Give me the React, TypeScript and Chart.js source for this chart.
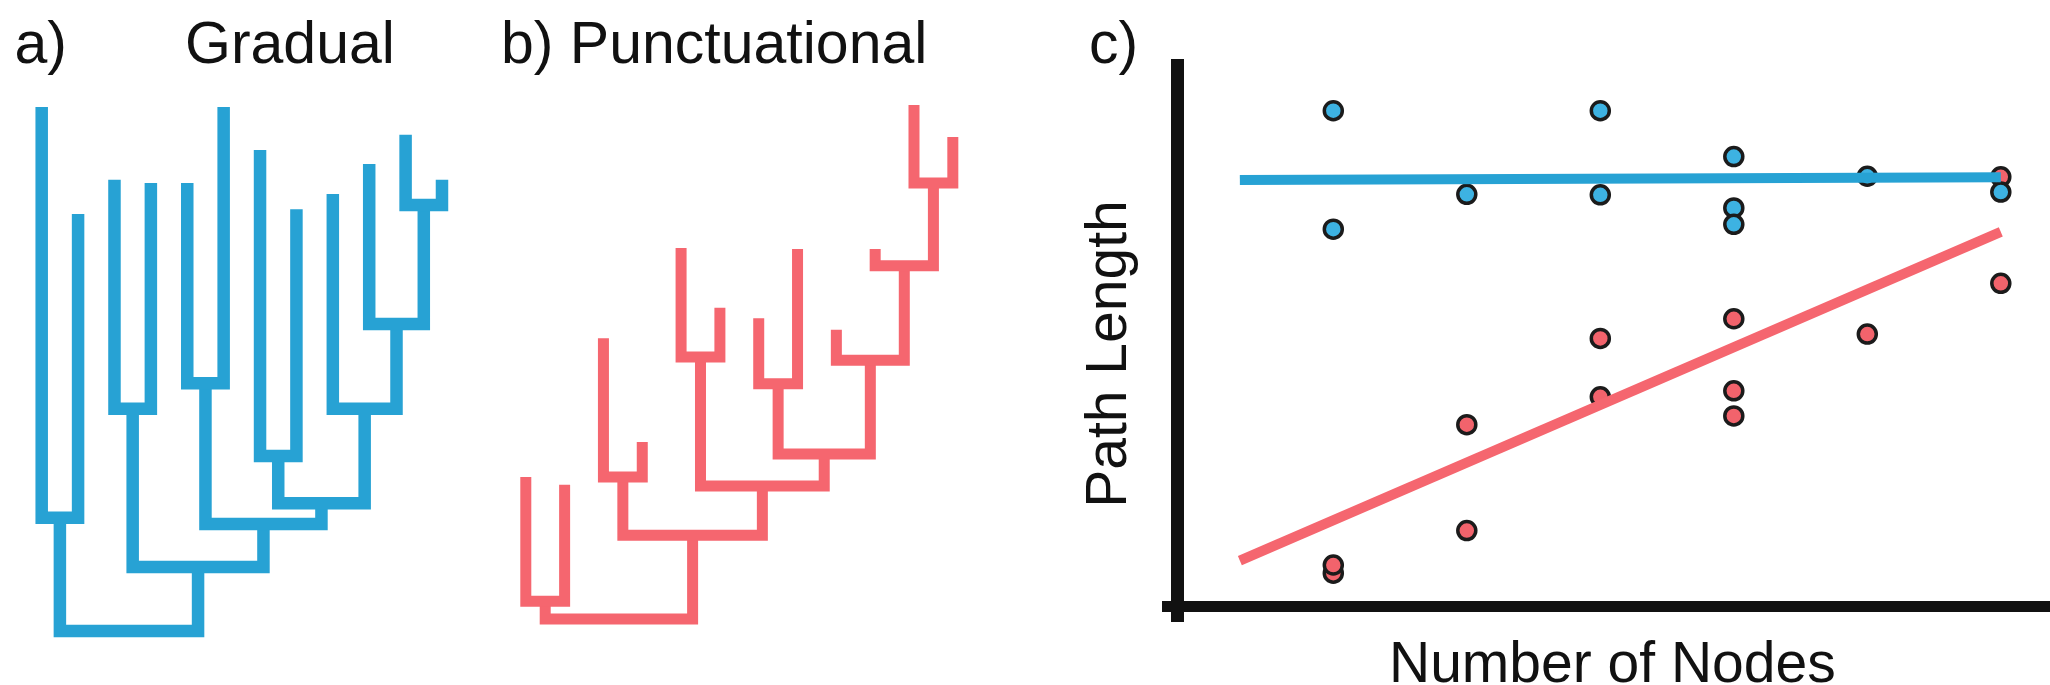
import React, { useEffect, useRef } from "react";
import { Chart, registerables } from "chart.js";

Chart.register(...registerables);

// ---- Tree topology (hclust-style merge table: negative = leaf, positive = earlier merge) ----
const mergeLeft = [-1, -3, -5, -7, -11, -10, -9, 4, 3, 2, 1];
const mergeRight = [-2, -4, -6, -8, -12, 5, 6, 7, 8, 9, 10];

// ---- a) Gradual tree: tip heights and merge heights (root = 0) ----
const gradualTipHeights = [100, 79.6, 86.1, 85.5, 85.5, 100, 91.8, 80.5, 83.4, 89.1, 94.7, 86.1];
const gradualNodeHeights = [21.6, 42.4, 47.3, 33.4, 81.3, 58.6, 42.4, 24.4, 20.4, 12.2, 0];

// ---- b) Punctuational tree ----
const punctTipHeights = [27.1, 25.6, 53.6, 33.8, 70.8, 59.4, 57.4, 70.6, 55.2, 70.6, 98.1, 92.0];
const punctNodeHeights = [3.4, 27.1, 50.0, 44.9, 83.2, 67.4, 49.4, 31.5, 25.4, 16.0, 0];

// ---- c) Path length vs number of nodes ----
const nodeCountsBlue = [1, 1, 2, 3, 3, 4, 4, 4, 5, 6];
const pathLengthBlue = [9.08, 6.91, 7.55, 9.08, 7.54, 8.24, 7.3, 7.0, 7.88, 7.59];
const nodeCountsRed = [1, 1, 2, 2, 3, 3, 4, 4, 4, 5, 6, 6];
const pathLengthRed = [0.61, 0.76, 3.33, 1.39, 4.91, 3.84, 5.27, 3.95, 3.49, 4.99, 7.87, 5.92];
const fitNodes = [0.3, 6.0];
const fitBlue = [7.81, 7.86];
const fitRed = [0.84, 6.86];

const BLUE = "#27a2d4";
const RED = "#f5666f";
const BLUE_FILL = "#3db2e2";
const RED_FILL = "#f2636c";
const INK = "#111111";

function buildTree(tips: number[], nodes: number[], color: string, lw: number) {
  const nodeX: number[] = [];
  const at = (id: number) =>
    id < 0 ? { x: -id, y: tips[-id - 1] } : { x: nodeX[id - 1], y: nodes[id - 1] };
  return mergeLeft.map((l, i) => {
    const a = at(l);
    const b = at(mergeRight[i]);
    nodeX.push((a.x + b.x) / 2);
    const h = nodes[i];
    return {
      data: [
        { x: a.x, y: a.y },
        { x: a.x, y: h },
        { x: b.x, y: h },
        { x: b.x, y: b.y },
      ],
      showLine: true,
      borderColor: color,
      borderWidth: lw,
      pointRadius: 0,
      borderJoinStyle: "miter",
      borderCapStyle: "butt",
      tension: 0,
      clip: false,
    };
  });
}

function TreeChart(props: {
  tips: number[];
  nodes: number[];
  color: string;
  lw: number;
  left: number;
  width: number;
  xMin: number;
  xMax: number;
  yMin: number;
  yMax: number;
}) {
  const ref = useRef<HTMLCanvasElement | null>(null);
  useEffect(() => {
    if (!ref.current) return;
    const chart = new Chart(ref.current, {
      type: "scatter",
      data: { datasets: buildTree(props.tips, props.nodes, props.color, props.lw) as any },
      options: {
        responsive: false,
        animation: false,
        events: [],
        layout: { padding: 0, autoPadding: false },
        plugins: { legend: { display: false }, tooltip: { enabled: false } },
        scales: {
          x: { type: "linear", display: false, min: props.xMin, max: props.xMax },
          y: { type: "linear", display: false, min: props.yMin, max: props.yMax },
        },
      },
    });
    return () => chart.destroy();
  }, []);
  return (
    <canvas
      ref={ref}
      width={props.width}
      height={685}
      style={{ position: "absolute", left: props.left, top: 0 }}
    />
  );
}

function ScatterChart() {
  const ref = useRef<HTMLCanvasElement | null>(null);
  useEffect(() => {
    if (!ref.current) return;
    const chart = new Chart(ref.current, {
      type: "scatter",
      data: {
        datasets: [
          {
            label: "Gradual fit",
            data: fitNodes.map((x, i) => ({ x, y: fitBlue[i] })),
            showLine: true,
            borderColor: BLUE,
            borderWidth: 10,
            borderCapStyle: "butt",
            pointRadius: 0,
            order: 0,
            clip: false,
          },
          {
            label: "Punctuational fit",
            data: fitNodes.map((x, i) => ({ x, y: fitRed[i] })),
            showLine: true,
            borderColor: RED,
            borderWidth: 10,
            borderCapStyle: "butt",
            pointRadius: 0,
            order: 0,
            clip: false,
          },
          {
            label: "Gradual",
            data: nodeCountsBlue.map((x, i) => ({ x, y: pathLengthBlue[i] })),
            showLine: false,
            pointRadius: 9,
            pointBackgroundColor: BLUE_FILL,
            pointBorderColor: "#1b1b1b",
            pointBorderWidth: 3.5,
            order: 1,
            clip: false,
          },
          {
            label: "Punctuational",
            data: nodeCountsRed.map((x, i) => ({ x, y: pathLengthRed[i] })),
            showLine: false,
            pointRadius: 9,
            pointBackgroundColor: RED_FILL,
            pointBorderColor: "#1b1b1b",
            pointBorderWidth: 3.5,
            order: 2,
            clip: false,
          },
        ] as any,
      },
      options: {
        responsive: false,
        animation: false,
        events: [],
        layout: { padding: { left: 107.8, top: 65.8, bottom: 63.8, right: 0 }, autoPadding: false },
        plugins: { legend: { display: false }, tooltip: { enabled: false } },
        scales: {
          x: {
            type: "linear",
            min: -0.2397,
            max: 6.3685,
            position: { y: 0 } as any,
            grid: { display: false },
            ticks: { display: false },
            border: { display: true, color: INK, width: 11 },
          },
          y: {
            type: "linear",
            min: -0.269,
            max: 9.903,
            position: { x: -0.1633 } as any,
            grid: { display: false },
            ticks: { display: false },
            border: { display: true, color: INK, width: 13 },
          },
        },
      },
    });
    return () => chart.destroy();
  }, []);
  return (
    <canvas
      ref={ref}
      width={990}
      height={685}
      style={{ position: "absolute", left: 1060, top: 0 }}
    />
  );
}

export default function App() {
  return (
    <div
      style={{
        position: "absolute",
        left: 0,
        top: 0,
        width: 2050,
        height: 685,
        background: "#ffffff",
        overflow: "hidden",
      }}
    >
      <TreeChart
        tips={gradualTipHeights}
        nodes={gradualNodeHeights}
        color={BLUE}
        lw={12.5}
        left={0}
        width={480}
        xMin={-0.1459}
        xMax={13.0445}
        yMin={-10.305}
        yMax={120.42}
      />
      <TreeChart
        tips={punctTipHeights}
        nodes={punctNodeHeights}
        color={RED}
        lw={11}
        left={480}
        width={500}
        xMin={-0.1798}
        xMax={12.7002}
        yMin={-12.595}
        yMax={118.13}
      />
      <ScatterChart />
      <svg
        width={2050}
        height={685}
        style={{ position: "absolute", left: 0, top: 0, pointerEvents: "none" }}
        fontFamily="'Liberation Sans', Arial, Helvetica, sans-serif"
        fill={INK}
      >
        <text x={14.5} y={63} fontSize={59}>a)</text>
        <text x={185} y={63} fontSize={59}>Gradual</text>
        <text x={501} y={63} fontSize={59}>b) Punctuational</text>
        <text x={1089} y={63} fontSize={59}>c)</text>
        <text transform="translate(1126,354) rotate(-90)" textAnchor="middle" fontSize={57}>
          Path Length
        </text>
        <text x={1389} y={681.7} fontSize={57}>Number of Nodes</text>
      </svg>
    </div>
  );
}
